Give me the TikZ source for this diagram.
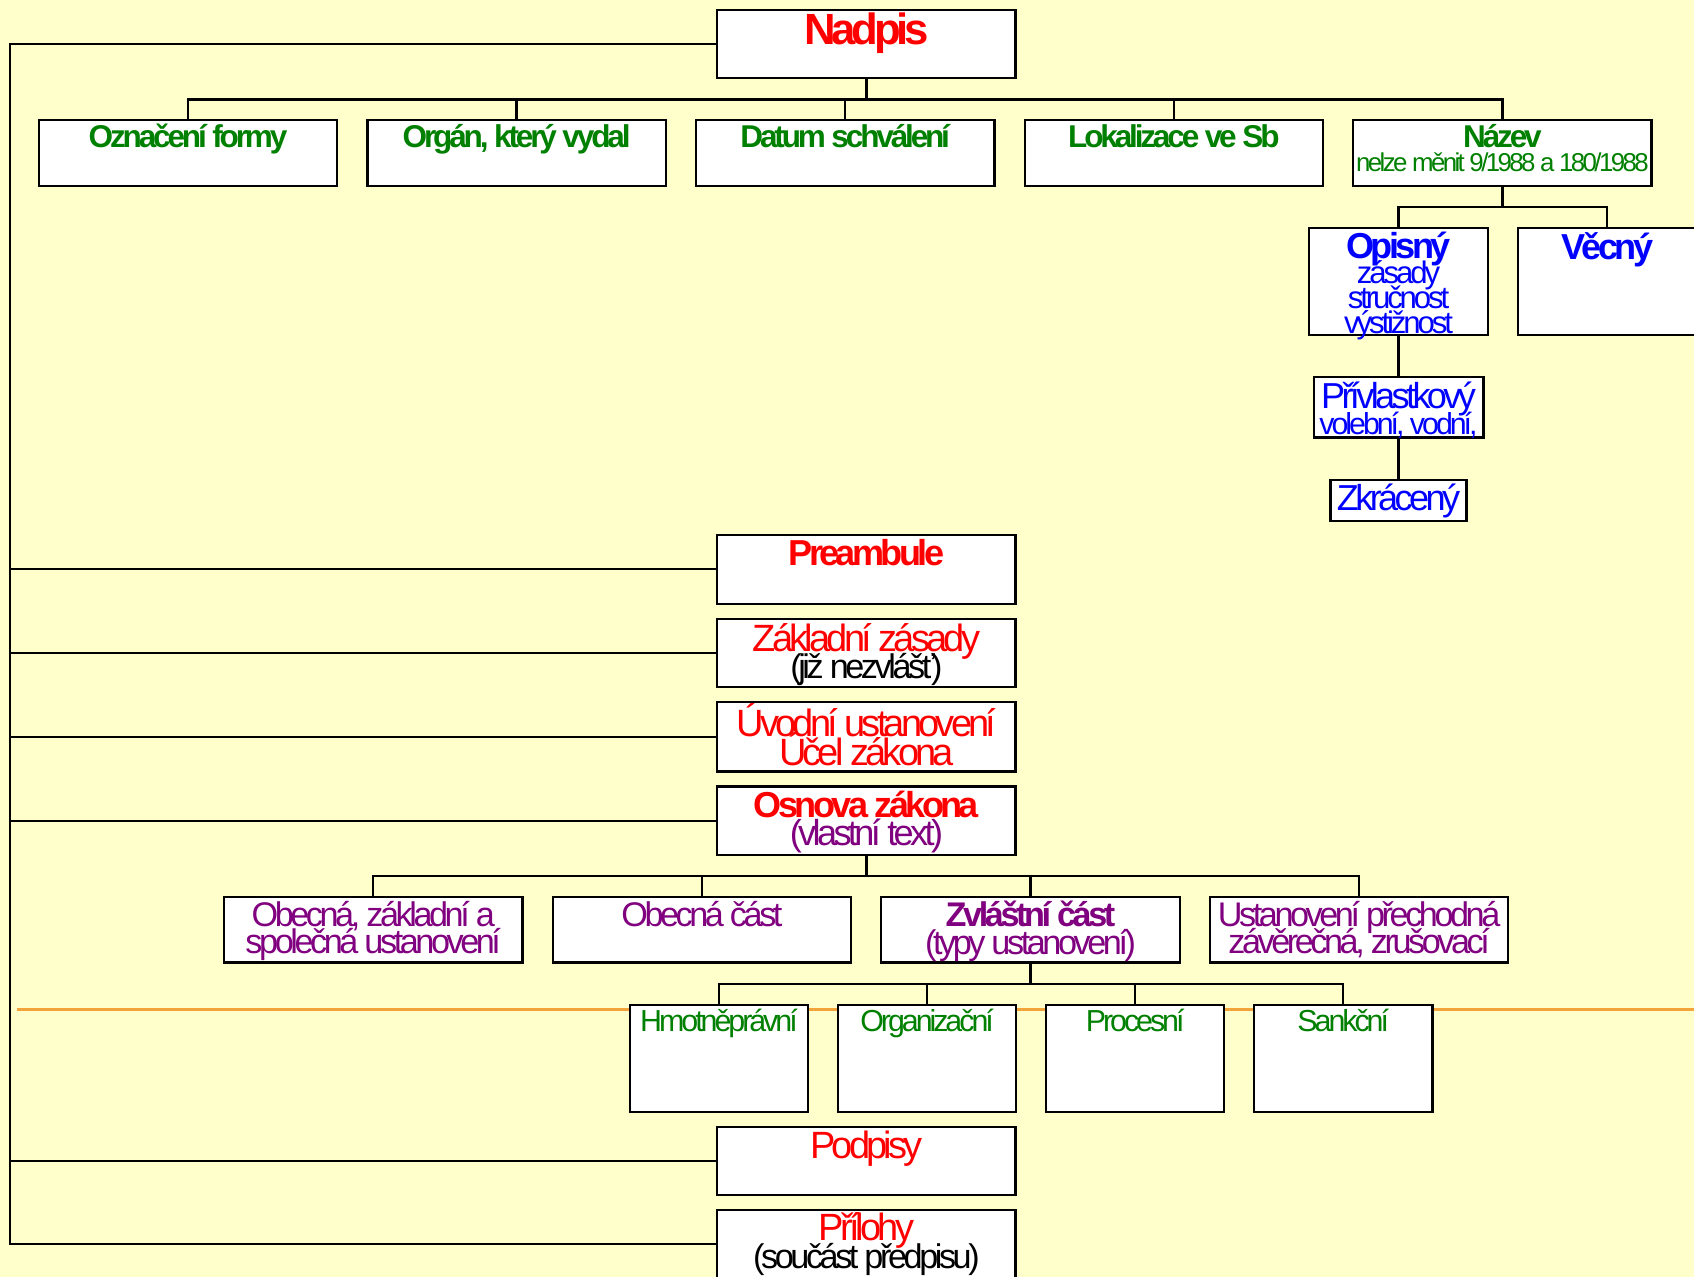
\documentclass[tikz,border=0pt]{standalone}
\usepackage{fontspec}
\setmainfont{Liberation Sans}[LetterSpace=-10]
\usetikzlibrary{positioning}
\definecolor{bg}{HTML}{FFFFCC}
\definecolor{grn}{HTML}{008000}
\definecolor{prp}{HTML}{800080}
\definecolor{org}{HTML}{F2A33A}
\lineskiplimit=-100pt

\begin{document}
\begin{tikzpicture}[x=0.01cm,y=-0.01cm,line width=0.6pt,
  box/.style={draw,fill=white,inner sep=0pt,outer sep=0pt,minimum width=2.76cm,minimum height=0.61cm},
  sbox/.style={box,minimum width=1.65cm,minimum height=0.99cm},
  ttl/.style={anchor=north,align=center,inner sep=0pt,yshift=-0.9pt}]
\path[use as bounding box,fill=bg] (0,0) rectangle (1568,1182);
\path (16,934) coordinate (oa) (1568,934) coordinate (ob);
\draw[org,line width=0.8pt] (oa) -- (ob);
\path (802,40.5) node[box,minimum height=0.63cm] (nadpis) {};
\path (174,141.5) node[box] (forma) {};
\path node[box,right=0.28cm of forma] (organ) {};
\path node[box,right=0.28cm of organ] (datum) {};
\path node[box,right=0.28cm of datum] (lokal) {};
\path node[box,right=0.28cm of lokal] (nazev) {};
\path (1294.5,260.5) node[sbox] (opisny) {};
\path node[sbox,right=0.28cm of opisny] (vecny) {};
\path node[box,minimum width=1.57cm,minimum height=0.56cm,below=0.39cm of opisny] (privl) {};
\path node[box,minimum width=1.26cm,minimum height=0.38cm,below=0.39cm of privl] (zkrac) {};
\path (802,527) node[box,minimum height=0.64cm] (pream) {};
\path node[box,minimum height=0.63cm,below=0.14cm of pream] (zasady) {};
\path node[box,minimum height=0.64cm,below=0.14cm of zasady] (uvod) {};
\path node[box,minimum height=0.63cm,below=0.14cm of uvod] (osnova) {};
\path (345.5,860.5) node[box] (spolec) {};
\path node[box,right=0.28cm of spolec] (obecna) {};
\path node[box,right=0.28cm of obecna] (zvlast) {};
\path node[box,right=0.28cm of zvlast] (prech) {};
\path (665.5,979.5) node[sbox] (hmot) {};
\path node[sbox,right=0.275cm of hmot] (organiz) {};
\path node[sbox,right=0.275cm of organiz] (proces) {};
\path node[sbox,right=0.275cm of proces] (sankce) {};
\path (802,1074.5) node[box,minimum height=0.63cm] (podpisy) {};
\path node[box,minimum height=0.63cm,below=0.14cm of podpisy] (prilohy) {};
\path (nadpis.north) node[ttl,text=red,font=\fontsize{11.5}{12}\selectfont\bfseries,yshift=0.4pt] (tnadpis) {Nadpis};
\path (forma.north) node[ttl,text=grn,font=\fontsize{8.3}{8}\selectfont\bfseries] (tforma) {Označení formy};
\path (organ.north) node[ttl,text=grn,font=\fontsize{8.3}{8}\selectfont\bfseries] (torgan) {Orgán, který vydal};
\path (datum.north) node[ttl,text=grn,font=\fontsize{8.3}{8}\selectfont\bfseries] (tdatum) {Datum schválení};
\path (lokal.north) node[ttl,text=grn,font=\fontsize{8.3}{8}\selectfont\bfseries] (tlokal) {Lokalizace ve Sb};
\path (nazev.north) node[ttl,text=grn,font=\fontsize{6.8}{6.2}\selectfont] (tnazev) {{\fontsize{8.3}{6.2}\selectfont\bfseries Název}\\nelze měnit 9/1988 a 180/1988};
\path (opisny.north) node[ttl,text=blue,font=\fontsize{8.2}{6.6}\selectfont,yshift=0.2pt] (topisny) {{\fontsize{9.5}{6.6}\selectfont\bfseries Opisný}\\zásady\\stručnost\\výstižnost};
\path (vecny.north) node[ttl,text=blue,font=\fontsize{9.5}{8}\selectfont\bfseries] (tvecny) {Věcný};
\path (privl.north) node[ttl,text=blue,font=\fontsize{8}{6.8}\selectfont] (tprivl) {{\fontsize{9.5}{6.8}\selectfont Přívlastkový}\\volební, vodní,};
\path (zkrac.north) node[ttl,text=blue,font=\fontsize{9.5}{8}\selectfont] (tzkrac) {Zkrácený};
\path (pream.north) node[ttl,text=red,font=\fontsize{9.5}{8}\selectfont\bfseries] (tpream) {Preambule};
\path (zasady.north) node[ttl,text=red,font=\fontsize{10}{7.2}\selectfont] (tzasady) {Základní zásady\\{\color{black}\fontsize{9}{7.2}\selectfont (již nezvlášť)}};
\path (uvod.north) node[ttl,text=red,font=\fontsize{10}{7.8}\selectfont,yshift=1pt] (tuvod) {Úvodní ustanovení\\Účel zákona};
\path (osnova.north) node[ttl,text=red,font=\fontsize{9.5}{7.2}\selectfont] (tosnova) {{\bfseries Osnova zákona}\\{\color{prp}(vlastní text)}};
\path (spolec.north) node[ttl,text=prp,font=\fontsize{9}{7}\selectfont] (tspolec) {Obecná, základní a\\společná ustanovení};
\path (obecna.north) node[ttl,text=prp,font=\fontsize{9}{7}\selectfont] (tobecna) {Obecná část};
\path (zvlast.north) node[ttl,text=prp,font=\fontsize{9}{7.2}\selectfont] (tzvlast) {{\bfseries Zvláštní část}\\(typy ustanovení)};
\path (prech.north) node[ttl,text=prp,font=\fontsize{9}{7}\selectfont] (tprech) {Ustanovení přechodná\\závěrečná, zrušovací};
\path (hmot.north) node[ttl,text=grn,font=\fontsize{8}{8}\selectfont] (thmot) {Hmotněprávní};
\path (organiz.north) node[ttl,text=grn,font=\fontsize{8}{8}\selectfont] (torganiz) {Organizační};
\path (proces.north) node[ttl,text=grn,font=\fontsize{8}{8}\selectfont] (tproces) {Procesní};
\path (sankce.north) node[ttl,text=grn,font=\fontsize{8}{8}\selectfont] (tsankce) {Sankční};
\path (podpisy.north) node[ttl,text=red,font=\fontsize{10}{8}\selectfont] (tpodpisy) {Podpisy};
\path (prilohy.north) node[ttl,text=red,font=\fontsize{10}{7.4}\selectfont,yshift=0.5pt] (tprilohy) {Přílohy\\{\color{black}\fontsize{9}{7.4}\selectfont (součást předpisu)}};
\draw (nadpis.south) -- ++(0,20) coordinate (b1);
\foreach \n in {forma,organ,datum,lokal,nazev} \draw (b1) -| (\n.north);
\draw (nazev.south) -- ++(0,19.5) coordinate (b2);
\foreach \n in {opisny,vecny} \draw (b2) -| (\n.north);
\draw (opisny.south) -- (privl.north);
\draw (privl.south) -- (zkrac.north);
\draw (osnova.south) -- ++(0,19.5) coordinate (b3);
\foreach \n in {spolec,obecna,zvlast,prech} \draw (b3) -| (\n.north);
\draw (zvlast.south) -- ++(0,19.5) coordinate (b4);
\foreach \n in {hmot,organiz,proces,sankce} \draw (b4) -| (\n.north);
\path (9,0) coordinate (kmen);
\draw (nadpis.west) -| (kmen |- prilohy.west) -- (prilohy.west);
\foreach \n in {pream,zasady,uvod,osnova,podpisy} \draw (\n.west) -- (kmen |- \n.west);
\end{tikzpicture}
\end{document}
